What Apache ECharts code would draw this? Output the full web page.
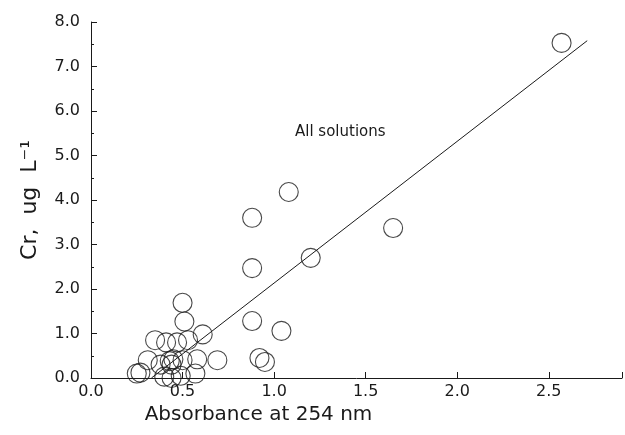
<!DOCTYPE html>
<html>
<head>
<meta charset="utf-8">
<script src="https://cdn.jsdelivr.net/npm/echarts@6/dist/echarts.min.js"></script>
<style>
  html, body { margin: 0; padding: 0; background: #fff; }
  #chart { width: 625px; height: 435px; }
</style>
</head>
<body>
<div id="chart"></div>
<script>
// absorbance at 254 nm vs Cr (ug/L), all solutions
const absorbance = [
  0.25, 0.27, 0.31, 0.35, 0.38, 0.41, 0.43, 0.44, 0.45, 0.47, 0.50,
  0.40, 0.44, 0.49, 0.57, 0.58, 0.53, 0.61, 0.50, 0.51, 0.69,
  0.88, 0.88, 0.88, 0.92, 0.95, 1.04, 1.08, 1.20, 1.65, 2.57
]
const chromium = [
  0.10, 0.12, 0.40, 0.85, 0.30, 0.80, 0.38, 0.30, 0.42, 0.80, 0.40,
  0.03, 0.00, 0.05, 0.10, 0.42, 0.85, 0.98, 1.69, 1.27, 0.40,
  3.60, 2.47, 1.28, 0.45, 0.36, 1.06, 4.18, 2.70, 3.37, 7.53
]
// fitted regression line end points
const fitX = [0.33, 2.71]
const fitY = [0.00, 7.58]

const font = 'DejaVu Sans'
const ink = '#1a1a1a'

const chart = echarts.init(document.getElementById('chart'))
chart.setOption({
  animation: false,
  backgroundColor: '#fff',
  title: {
    text: 'All solutions',
    left: 290,
    top: 120,
    textStyle: { fontFamily: font, fontSize: 15, fontWeight: 'normal', color: ink }
  },
  grid: { left: 91, right: 3, top: 22, bottom: 57 },
  xAxis: {
    type: 'value',
    min: 0,
    max: 2.9,
    interval: 0.5,
    name: 'Absorbance at 254 nm',
    nameLocation: 'middle',
    nameGap: 21,
    nameTextStyle: { fontFamily: font, fontSize: 20, color: ink, padding: [0, 196, 0, 0] },
    axisLine: { lineStyle: { color: ink, width: 1 } },
    axisTick: { inside: true, length: 6, lineStyle: { color: ink } },
    axisLabel: {
      fontFamily: font, fontSize: 16, color: ink, margin: 6,
      formatter: v => (Math.abs(v * 2 - Math.round(v * 2)) < 1e-6 ? v.toFixed(1) : '')
    },
    splitLine: { show: false }
  },
  yAxis: {
    type: 'value',
    min: 0,
    max: 8,
    interval: 1,
    name: 'Cr,  ug  L\u207B\u00B9',
    nameLocation: 'middle',
    nameGap: 50,
    nameTextStyle: { fontFamily: font, fontSize: 22, color: ink },
    axisLine: { show: true, lineStyle: { color: ink, width: 1 } },
    axisTick: { inside: true, length: 6, lineStyle: { color: ink } },
    minorTick: { show: true, splitNumber: 2, length: 3, lineStyle: { color: ink } },
    axisLabel: { fontFamily: font, fontSize: 16, color: ink, margin: 11, formatter: v => v.toFixed(1) },
    splitLine: { show: false }
  },
  series: [
    {
      type: 'scatter',
      data: absorbance.map((x, i) => [x, chromium[i]]),
      symbol: 'circle',
      symbolSize: 19,
      itemStyle: { color: 'rgba(0,0,0,0)', borderColor: ink, borderWidth: 1.1 },
      emphasis: { disabled: true },
      z: 3
    },
    {
      type: 'line',
      data: fitX.map((x, i) => [x, fitY[i]]),
      showSymbol: false,
      lineStyle: { color: ink, width: 1 },
      z: 2
    }
  ]
})
</script>
</body>
</html>
